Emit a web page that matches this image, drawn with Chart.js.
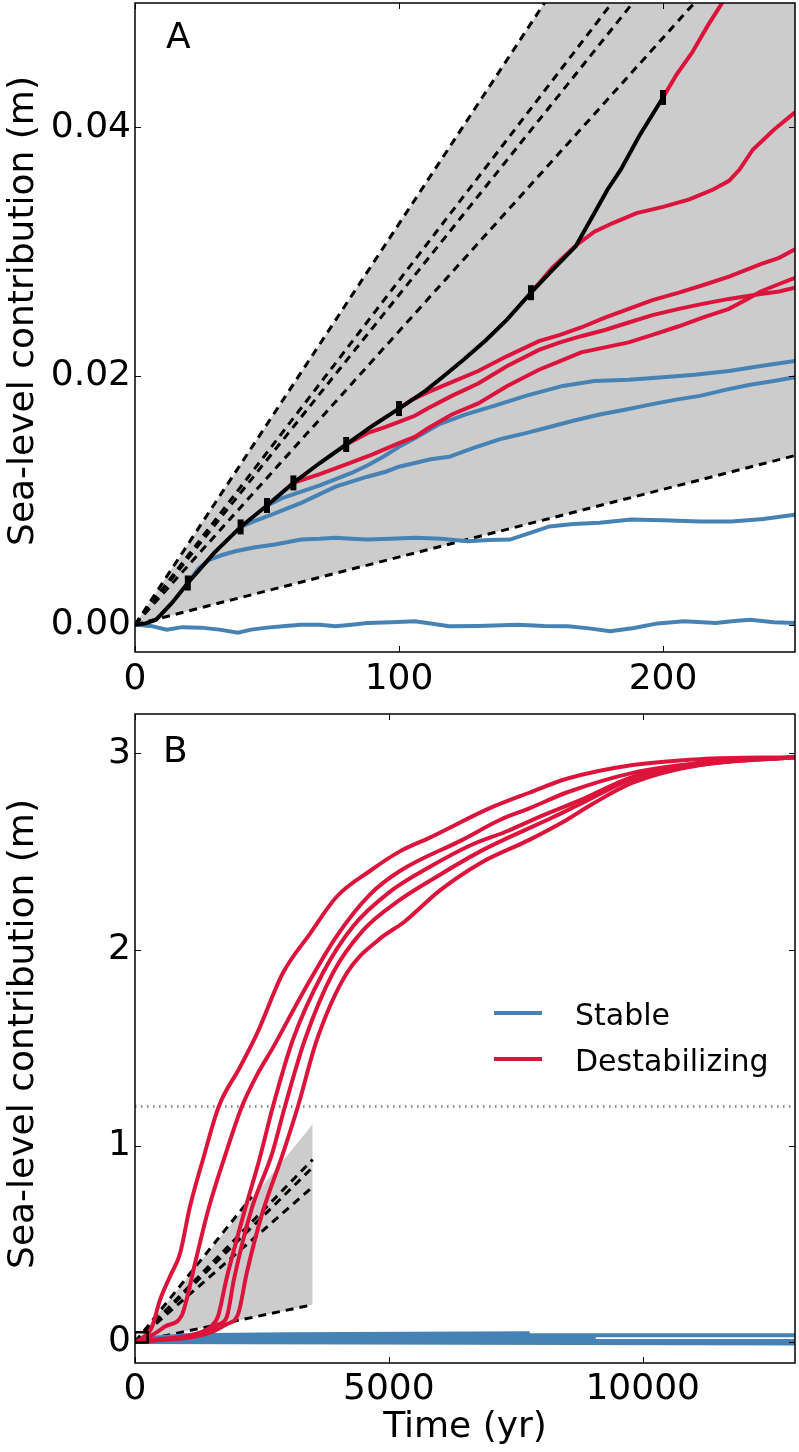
<!DOCTYPE html>
<html>
<head>
<meta charset="utf-8">
<script src="https://cdn.jsdelivr.net/npm/chart.js@4.4.1/dist/chart.umd.min.js"></script>
<style>
  html, body { margin: 0; padding: 0; background: #fff; }
  #chartA { position: absolute; left: 0; top: 0; }
  #chartB { position: absolute; left: 0; top: 700px; }
</style>
</head>
<body>
<canvas id="chartA" width="799" height="700"></canvas>
<canvas id="chartB" width="799" height="752"></canvas>
<script>
// --- Panel A data: [time (yr), sea-level contribution (m)] ---
const xTicksA = [0, 100, 200];
const yTicksA = [0, 0.02, 0.04];

const blackA = [[0,0],[4,0.0001],[8,0.0004],[14,0.00175],[20,0.00335],[30,0.00577],[40,0.00786],[50,0.00958],[60,0.0114],[70,0.013],[80,0.01449],[90,0.016],[100,0.01738],[110,0.0188],[117,0.02],[125,0.0214],[133,0.0229],[141,0.02455],[150,0.0267],[158,0.0285],[167,0.03045],[179,0.035],[184,0.0366],[191,0.0393],[200,0.0424]];
const markerT = [20, 40, 50, 60, 80, 100, 150, 200];
const markerV = [0.00335, 0.00786, 0.00958, 0.0114, 0.01449, 0.01738, 0.0267, 0.0424];

const redA1 = [[200,0.0424],[205,0.0442],[211,0.046],[217,0.0482],[223,0.0502],[230,0.053]];
const redA2 = [[150,0.0267],[158,0.0287],[167,0.0305],[174,0.0316],[181,0.0323],[190,0.0331],[200,0.0336],[210,0.0342],[219,0.035],[225,0.0357],[229,0.0366],[234,0.0382],[242,0.0398],[250,0.0412]];
const redA3 = [[100,0.01738],[105,0.0181],[111,0.0187],[120,0.0195],[130,0.0204],[141,0.0216],[153,0.0228],[161,0.0233],[169,0.0239],[178,0.0247],[187,0.0254],[196,0.0261],[206,0.0267],[215,0.0273],[225,0.028],[237,0.029],[244,0.0295],[250,0.0302]];
const redA4 = [[80,0.01449],[88,0.0154],[95,0.0159],[100,0.0163],[106,0.0168],[111,0.0174],[120,0.0184],[130,0.0194],[141,0.0208],[153,0.0221],[161,0.0227],[169,0.0232],[178,0.0237],[187,0.0243],[196,0.0249],[206,0.0254],[215,0.0258],[225,0.0262],[237,0.0266],[244,0.0268],[250,0.0271]];
const redA5 = [[60,0.0114],[70,0.0121],[80,0.0129],[90,0.0137],[100,0.0146],[106,0.0151],[111,0.0158],[120,0.0169],[130,0.0178],[141,0.0192],[153,0.0205],[161,0.0212],[169,0.0219],[178,0.0223],[187,0.0227],[196,0.0233],[206,0.024],[215,0.0247],[225,0.0254],[232,0.0262],[237,0.0268],[244,0.0274],[250,0.0279]];

const blueA1 = [[50,0.00958],[56,0.0102],[63,0.0107],[70,0.0112],[76,0.0117],[82,0.0122],[88,0.0128],[94,0.0135],[100,0.0143],[106,0.015],[115,0.0161],[125,0.0169],[136,0.0176],[148,0.0184],[162,0.0192],[174,0.0196],[187,0.0197],[200,0.0199],[212,0.0201],[225,0.0204],[237,0.0208],[250,0.0212]];
const blueA2 = [[40,0.00786],[45,0.0083],[50,0.0087],[57,0.0093],[63,0.0098],[70,0.0105],[76,0.0111],[82,0.0115],[88,0.0119],[95,0.0123],[100,0.0127],[106,0.013],[112,0.0133],[119,0.0135],[128,0.0142],[138,0.0149],[148,0.0154],[157,0.0159],[166,0.0164],[176,0.0169],[186,0.0173],[195,0.0177],[205,0.0181],[214,0.0184],[224,0.0189],[233,0.0193],[242,0.0196],[250,0.0199]];
const blueA3 = [[20,0.00335],[24,0.0045],[28,0.0052],[33,0.0056],[38,0.0059],[45,0.0062],[53,0.00644],[63,0.00684],[70,0.0069],[76,0.00698],[82,0.0069],[88,0.00684],[97,0.0069],[106,0.00698],[116,0.0069],[126,0.0067],[134,0.0068],[142,0.00684],[150,0.0074],[157,0.0079],[166,0.0081],[176,0.0082],[188,0.00845],[200,0.0084],[214,0.0083],[226,0.0083],[238,0.0085],[250,0.00885]];
const blueA4 = [[0,0],[6,-0.0001],[12,-0.0004],[18,-0.0002],[25,-0.00024],[32,-0.0004],[39,-0.00064],[44,-0.0004],[50,-0.00024],[57,-0.0001],[63,0],[70,0],[76,-0.00013],[82,0],[88,0.00013],[97,0.0002],[106,0.00027],[112,0.0001],[119,-0.00013],[130,-0.0001],[145,0],[155,-0.0001],[164,-0.00013],[172,-0.0003],[180,-0.00053],[189,-0.00027],[198,0.0001],[208,0.00027],[220,0.00013],[227,0.0003],[233,0.0004],[242,0.0002],[250,0.00013]];

const dashTopA = [[0,0],[250,0.0806]];
const dash2A = [[0,0],[250,0.0692]];
const dash3A = [[0,0],[250,0.0663]];
const dash4A = [[0,0],[250,0.059]];
const dashBottomA = [[0,0],[250,0.0136]];

// --- Panel B data ---
const xTicksB = [0, 5000, 10000];
const yTicksB = [0, 1, 2, 3];

const redB1 = [[0,0],[150,0.02],[335,0.077],[492,0.214],[700,0.34],[886,0.45],[1083,0.69],[1339,0.93],[1650,1.2],[2067,1.4],[2400,1.57],[2913,1.88],[3445,2.08],[3976,2.27],[4626,2.4],[5217,2.5],[5807,2.57],[6988,2.72],[7776,2.8],[8504,2.87],[9803,2.94],[11122,2.97],[13000,2.98]];
const redB2 = [[0,0],[300,0.03],[600,0.08],[925,0.137],[1000,0.2],[1200,0.42],[1450,0.68],[1800,0.97],[2106,1.2],[2400,1.36],[2717,1.5],[3307,1.78],[3976,2.07],[4626,2.28],[5217,2.4],[6457,2.56],[7185,2.66],[7776,2.72],[8504,2.8],[9803,2.9],[11122,2.95],[13000,2.98]];
const redB3 = [[0,0],[500,0.015],[1000,0.03],[1300,0.05],[1500,0.08],[1634,0.13],[1800,0.32],[2150,0.66],[2450,0.93],[2717,1.2],[3110,1.54],[3700,1.88],[4300,2.12],[5000,2.29],[5800,2.42],[6600,2.53],[7300,2.6],[8000,2.68],[8760,2.76],[9803,2.88],[11122,2.95],[13000,2.98]];
const redB4 = [[0,0],[500,0.012],[1000,0.025],[1400,0.05],[1650,0.09],[1811,0.13],[1950,0.32],[2300,0.68],[2700,0.96],[2953,1.2],[3346,1.54],[3898,1.88],[4500,2.1],[5200,2.25],[6000,2.38],[6800,2.5],[7440,2.58],[8200,2.67],[8760,2.74],[9803,2.87],[11122,2.94],[13000,2.98]];
const redB5 = [[0,0],[500,0.01],[1000,0.02],[1500,0.05],[1800,0.09],[2028,0.14],[2200,0.35],[2500,0.65],[2913,0.96],[3209,1.2],[3583,1.54],[4173,1.88],[4800,2.05],[5300,2.14],[6000,2.3],[6800,2.44],[7776,2.56],[8500,2.66],[9000,2.74],[9803,2.85],[11122,2.94],[13000,2.98]];

const blueB1 = [[0,0],[300,0.02],[1000,0.035],[3000,0.04],[7776,0.045]];
const blueB2 = [[0,0],[500,0.02],[2000,0.03],[6000,0.035],[13000,0.035]];
const blueB3 = [[0,0],[1000,0.015],[5000,0.02],[9075,0.02]];
const blueB4 = [[0,0],[2000,0.005],[13000,0.005]];
const blueB5 = [[0,0],[13000,-0.008]];

const fillTopB = [[0,0],[3500,1.11]];
const dashTopB = [[0,0],[2300,0.74]];
const dash2B = [[0,0],[3500,0.93]];
const dash3B = [[0,0],[3500,0.89]];
const dash4B = [[0,0],[3500,0.79]];
const dashBottomB = [[0,0],[3500,0.19]];
const dottedB = [[0,1.2],[13000,1.2]];
const boxB = [[0,-0.0022],[250,-0.0022],[250,0.05],[0,0.05],[0,-0.0022]];

const legendLabels = ['Stable', 'Destabilizing'];

// --- Styles ---
const BLUE = '#4682b4';
const RED = '#dc143c';
const GRAY = '#cccccc';
const FONT = '"DejaVu Sans", sans-serif';

function line(arr, color, width, order, extra) {
    return Object.assign({
        data: arr.map(([x, y]) => ({ x, y })),
        borderColor: color,
        backgroundColor: color,
        borderWidth: width,
        pointRadius: 0,
        fill: false,
        order: order,
        clip: 0
    }, extra || {});
}

const dashed = { borderDash: [8, 6] };

// inward ticks, frame and texts, drawn from the chart's own scales
const panelDecor = {
    id: 'panelDecor',
    afterDraw(chart, args, o) {
        const { ctx, chartArea: a, scales } = chart;
        ctx.save();
        ctx.strokeStyle = '#000';
        ctx.lineWidth = 1;
        ctx.beginPath();
        scales.x.ticks.forEach(t => {
            const px = Math.round(scales.x.getPixelForValue(t.value)) + 0.5;
            ctx.moveTo(px, a.bottom); ctx.lineTo(px, a.bottom - 6);
            ctx.moveTo(px, a.top); ctx.lineTo(px, a.top + 6);
        });
        scales.y.ticks.forEach(t => {
            const py = Math.round(scales.y.getPixelForValue(t.value)) + 0.5;
            ctx.moveTo(a.left, py); ctx.lineTo(a.left + 6, py);
            ctx.moveTo(a.right, py); ctx.lineTo(a.right - 6, py);
        });
        ctx.stroke();

        ctx.lineWidth = 1.5;
        ctx.strokeRect(a.left, a.top, a.right - a.left, a.bottom - a.top);

        ctx.fillStyle = '#000';
        ctx.textBaseline = 'alphabetic';
        ctx.textAlign = 'left';
        ctx.font = '36px ' + FONT;
        ctx.fillText(o.letter, o.letterX, o.letterY);

        if (o.xTitle) {
            ctx.textAlign = 'center';
            ctx.fillText(o.xTitle, (a.left + a.right) / 2, o.xTitleY);
        }

        if (o.legend) {
            ctx.textAlign = 'left';
            ctx.font = '30px ' + FONT;
            o.legend.forEach(item => {
                ctx.strokeStyle = item.color;
                ctx.lineWidth = 4;
                ctx.beginPath();
                ctx.moveTo(494, item.y); ctx.lineTo(542, item.y);
                ctx.stroke();
                ctx.fillText(item.label, 575, item.base);
            });
        }

        ctx.font = '36px ' + FONT;
        ctx.textAlign = 'center';
        ctx.translate(o.yTitleX, o.yTitleY);
        ctx.rotate(-Math.PI / 2);
        ctx.fillText(o.yTitle, 0, 0);
        ctx.restore();
    }
};

function axis(min, max, ticks, fmt, fitProp, fitSize, pad) {
    return {
        type: 'linear',
        min: min,
        max: max,
        afterBuildTicks: s => { s.ticks = ticks.map(v => ({ value: v })); },
        afterFit: s => {
            s[fitProp] = fitSize;
            s.paddingTop = 0; s.paddingBottom = 0;
            s.paddingLeft = 0; s.paddingRight = 0;
        },
        grid: { display: false, drawTicks: false },
        border: { display: false },
        ticks: {
            color: '#000',
            font: { family: FONT, size: 36 },
            padding: pad,
            maxRotation: 0,
            autoSkip: false,
            callback: v => fmt(v)
        }
    };
}

const baseOptions = {
    responsive: false,
    animation: false,
    devicePixelRatio: 1,
    events: [],
    elements: { line: { tension: 0 } }
};

// --- Panel A ---
new Chart(document.getElementById('chartA'), {
    type: 'line',
    data: {
        datasets: [
            line(dashTopA, '#000', 3, 8, Object.assign({ fill: '+1', backgroundColor: GRAY }, dashed)),
            line(dashBottomA, '#000', 3, 8, dashed),
            line(dash2A, '#000', 3, 8, dashed),
            line(dash3A, '#000', 3, 8, dashed),
            line(dash4A, '#000', 3, 8, dashed),
            line(blueA1, BLUE, 4, 5),
            line(blueA2, BLUE, 4, 5),
            line(blueA3, BLUE, 4, 5),
            line(blueA4, BLUE, 4, 5),
            line(redA1, RED, 4, 4),
            line(redA2, RED, 4, 4),
            line(redA3, RED, 4, 4),
            line(redA4, RED, 4, 4),
            line(redA5, RED, 4, 4),
            line(blackA, '#000', 4, 2),
            {
                data: markerT.map((t, i) => ({ x: t, y: markerV[i] })),
                showLine: false,
                pointStyle: 'line',
                rotation: 90,
                pointRadius: 7.5,
                pointBorderWidth: 6,
                pointBorderColor: '#000',
                borderColor: '#000',
                order: 1,
                clip: 0
            }
        ]
    },
    options: Object.assign({}, baseOptions, {
        layout: { autoPadding: false, padding: { top: 3, right: 4, left: 0, bottom: 0 } },
        plugins: {
            legend: { display: false },
            tooltip: { enabled: false },
            filler: { drawTime: 'beforeDatasetsDraw' },
            panelDecor: {
                letter: 'A', letterX: 166, letterY: 48,
                yTitle: 'Sea-level contribution (m)', yTitleX: 33, yTitleY: 311
            }
        },
        scales: {
            x: axis(0, 250, xTicksA, v => String(v), 'height', 48, 6),
            y: axis(-0.0022, 0.05, yTicksA, v => v.toFixed(2), 'width', 135, 4)
        }
    }),
    plugins: [panelDecor]
});

// --- Panel B ---
new Chart(document.getElementById('chartB'), {
    type: 'line',
    data: {
        datasets: [
            line(fillTopB, 'rgba(0,0,0,0)', 0, 9, { fill: '+1', backgroundColor: GRAY }),
            line(dashBottomB, '#000', 3, 8, dashed),
            line(dashTopB, '#000', 3, 8, dashed),
            line(dash2B, '#000', 3, 8, dashed),
            line(dash3B, '#000', 3, 8, dashed),
            line(dash4B, '#000', 3, 8, dashed),
            line(dottedB, '#909090', 3, 9, { borderDash: [1.5, 4.5] }),
            line(blueB1, BLUE, 4, 5),
            line(blueB2, BLUE, 4, 5),
            line(blueB3, BLUE, 4, 5),
            line(blueB4, BLUE, 4, 5),
            line(blueB5, BLUE, 4, 5),
            line(redB1, RED, 4, 4, { cubicInterpolationMode: 'monotone' }),
            line(redB2, RED, 4, 4, { cubicInterpolationMode: 'monotone' }),
            line(redB3, RED, 4, 4, { cubicInterpolationMode: 'monotone' }),
            line(redB4, RED, 4, 4, { cubicInterpolationMode: 'monotone' }),
            line(redB5, RED, 4, 4, { cubicInterpolationMode: 'monotone' }),
            line(boxB, '#000', 2.5, 0)
        ]
    },
    options: Object.assign({}, baseOptions, {
        layout: { autoPadding: false, padding: { top: 14, right: 4, left: 0, bottom: 0 } },
        plugins: {
            legend: { display: false },
            tooltip: { enabled: false },
            filler: { drawTime: 'beforeDatasetsDraw' },
            panelDecor: {
                letter: 'B', letterX: 163, letterY: 62,
                yTitle: 'Sea-level contribution (m)', yTitleX: 33, yTitleY: 334,
                xTitle: 'Time (yr)', xTitleY: 737,
                legend: [
                    { label: legendLabels[0], color: BLUE, y: 313, base: 325 },
                    { label: legendLabels[1], color: RED, y: 359, base: 371 }
                ]
            }
        },
        scales: {
            x: axis(0, 13000, xTicksB, v => String(v), 'height', 89, 5),
            y: axis(-0.107, 3.2, yTicksB, v => String(v), 'width', 135, 4)
        }
    }),
    plugins: [panelDecor]
});
</script>
</body>
</html>
